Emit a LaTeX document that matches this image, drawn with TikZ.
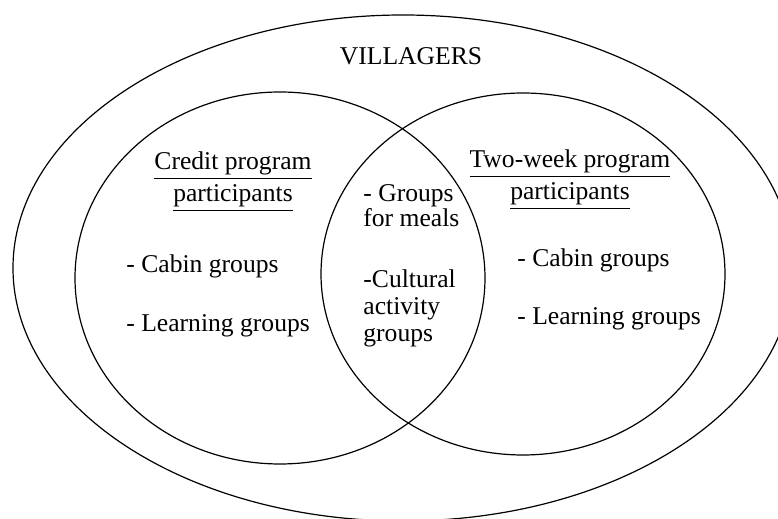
\documentclass[tikz,border=0pt]{standalone}
\usepackage{fontspec}
\setmainfont{Liberation Serif}

\begin{document}
\begin{tikzpicture}[x = 0.5pt, y = 0.5pt, set/.style={draw, line width = 0.6pt}, label/.style={inner sep = 0pt, anchor = base west, align = left}, heading/.style={inner sep = 0pt, anchor = base, align = center}, font = \fontsize{12.8}{16}\selectfont]

        \useasboundingbox (0, 0) rectangle (778, 519);
        \clip (0, 0) rectangle (778, 519);

        \draw[set] (403, 251) ellipse [x radius = 390, y radius = 253];
        \draw[set] (280, 241) ellipse [x radius = 205, y radius = 186];
        \draw[set] (523, 245) ellipse [x radius = 202, y radius = 181];

        \node[heading] at (411, 454) (villagers) {VILLAGERS};

        \node[heading] at (233, 317) (credit) {\underline{Credit program}\\\underline{participants}};
        \node[heading] at (570, 319) (twoweek) {\underline{Two-week program}\\\underline{participants}};

        \node[label] at (126, 246) (cabin1) {- Cabin groups};
        \node[label] at (126, 187) (learn1) {- Learning groups};

        \node[label, font = \fontsize{12.8}{12.5}\selectfont] at (363, 292) (meals) {- Groups\\for meals};
        \node[label, font = \fontsize{12.8}{13.5}\selectfont] at (363, 177) (culture) {-Cultural\\activity\\groups};

        \node[label] at (517, 252) (cabin2) {- Cabin groups};
        \node[label] at (517, 194) (learn2) {- Learning groups};
        \end{tikzpicture}
\end{document}
